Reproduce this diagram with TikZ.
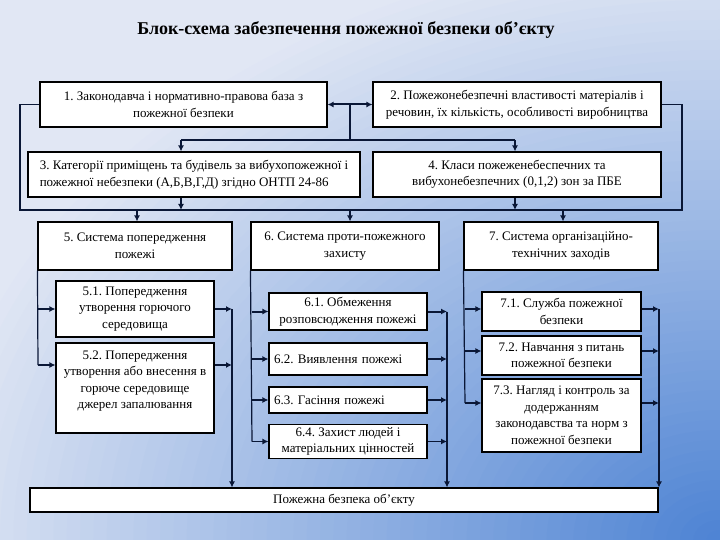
\documentclass[tikz,border=0pt]{standalone}
\usepackage{fontspec}
\setmainfont{Liberation Serif}
\usetikzlibrary{arrows.meta}
\definecolor{bgin}{HTML}{4C82D3}
\definecolor{bgout}{HTML}{E1E7F4}
\definecolor{navy}{HTML}{0A1736}
\frenchspacing
\begin{document}
\begin{tikzpicture}[x=1pt,y=-1pt,
  box/.style={draw=black, line width=1.1pt, fill=white, inner sep=3pt,
    font=\fontsize{13}{16.5}\selectfont, align=center},
  thinl/.style={draw=navy, line width=1.2pt},
  thickl/.style={draw=navy, line width=2pt},
  arr/.style={-{Latex[length=6pt,width=6pt]}}
]
\useasboundingbox (0,0) rectangle (720,540);
\begin{scope}
\clip (0,0) rectangle (720,540);
\fill[bgout] (0,0) rectangle (720,540);
\foreach \i in {60,59,...,1}{
  \pgfmathsetmacro\p{100-100*\i/60}
  \fill[bgin!\p!bgout] (720,540) ellipse [x radius=\i*13.33, y radius=\i*10];
}
\end{scope}

\node[font=\bfseries\fontsize{18}{21}\selectfont, text=black] (title) at (346,30) {Блок-схема забезпечення пожежної безпеки об’єкту};

% top boxes
\node[box, minimum width=287, minimum height=45] (b1) at (183.5,104.5) {1. Законодавча і нормативно-правова база з\\пожежної безпеки};
\node[box, minimum width=288, minimum height=45] (b2) at (517,104.5) {2. Пожежонебезпечні властивості матеріалів і\\речовин, їх кількість, особливості виробництва};
\node[box, minimum width=332, minimum height=45, align=left] (b3) at (194,174.5) {3. Категорії приміщень та будівель за вибухопожежної і\\пожежної небезпеки (А,Б,В,Г,Д) згідно ОНТП 24-86};
\node[box, minimum width=288, minimum height=45] (b4) at (517,174.5) {4. Класи пожеженебеспечних та\\вибухонебезпечних (0,1,2) зон за ПБЕ};

% systems
\node[box, minimum width=194, minimum height=48] (b5) at (135,246) {5. Система попередження\\пожежі};
\node[box, minimum width=188, minimum height=48] (b6) at (345,246) {6. Система проти-пожежного\\захисту};
\node[box, minimum width=194, minimum height=48] (b7) at (561,246) {7. Система організаційно-\\технічних заходів};

% sub boxes 5
\node[box, minimum width=158, minimum height=56] (b51) at (135,309) {5.1. Попередження\\утворення горючого\\середовища};
\node[box, minimum width=158, minimum height=90] (b52) at (135,388) {5.2. Попередження\\утворення або внесення в\\горюче середовище\\джерел запалювання\\~};
% sub boxes 6
\node[box, minimum width=158, minimum height=37] (b61) at (348,311.5) {6.1. Обмеження\\розповсюдження пожежі};
\node[box, minimum width=158, minimum height=32, text width=148, align=left] (b62) at (348,359) {6.2. Виявлення пожежі};
\node[box, minimum width=158, minimum height=26, text width=148, align=left] (b63) at (348,400) {6.3. Гасіння пожежі};
\node[box, minimum width=158, minimum height=33] (b64) at (348,441.5) {6.4. Захист людей і\\матеріальних цінностей};
% sub boxes 7
\node[box, minimum width=159, minimum height=39] (b71) at (561.5,311.5) {7.1. Служба пожежної\\безпеки};
\node[box, minimum width=159, minimum height=39] (b72) at (561.5,355.5) {7.2. Навчання з питань\\пожежної безпеки};
\node[box, minimum width=159, minimum height=73] (b73) at (561.5,415.5) {7.3. Нагляд і контроль за\\додержанням\\законодавства та норм з\\пожежної безпеки};

% bottom
\node[box, minimum width=628, minimum height=24] (bot) at (344,500) {Пожежна безпека об’єкту};

% coordinates
\coordinate (m) at (350,104.5);
\coordinate (m2) at (350,140);
\coordinate (h3) at (181,140);
\coordinate (h4) at (515,140);
\coordinate (LL) at (20,104.5);
\coordinate (LB) at (20,210);
\coordinate (RL) at (682,104.5);
\coordinate (RB) at (682,210);
\coordinate (t5) at (137,210);
\coordinate (t6) at (350,210);
\coordinate (t7) at (563,210);
\coordinate (R5) at (232,310);
\coordinate (R6) at (447,310);
\coordinate (R7) at (659,309);
\coordinate (L5b) at (38,365);
\coordinate (L6d) at (252,441.5);
\coordinate (L7a) at (465,309);
\coordinate (L7b) at (465,351);
\coordinate (L7c) at (465,403);

% top connectors
\draw[thickl, {Latex[length=6pt,width=6pt]}-{Latex[length=6pt,width=6pt]}] (b1.east) -- (b2.west);
\draw[thinl] (m) -- (m2);
\draw[thinl] (h3) -- (h4);
\draw[thinl, arr] (h3) -- (h3 |- b3.north);
\draw[thinl, arr] (h4) -- (h4 |- b4.north);
\draw[thinl, arr] (b3.south -| h3) -- (h3 |- LB);
\draw[thinl, arr] (b4.south -| h4) -- (h4 |- LB);
\draw[thinl] (b1.west) -- (LL) -- (LB) -- (RB) -- (RL) -- (b2.east);
\draw[thickl, arr] (t5) -- (t5 |- b5.north);
\draw[thickl, arr] (t6) -- (t6 |- b6.north);
\draw[thickl, arr] (t7) -- (t7 |- b7.north);

% system 5
\draw[thinl] (b5.south west) -- (L5b);
\draw[thickl, arr] (b5.west |- b51) -- (b51.west);
\draw[thinl, arr] (L5b) -- (L5b -| b52.west);
\draw[thickl, arr] (b51.east) -- (R5 |- b51);
\draw[thinl, arr] (L5b -| b52.east) -- (L5b -| R5);
\draw[thickl, arr] (R5 |- b51) -- (R5 |- bot.north);

% system 6
\draw[thinl] (b6.south west) -- (L6d);
\draw[thickl, arr] (L6d |- b61) -- (b61.west);
\draw[thinl, arr] (L6d |- b62) -- (b62.west);
\draw[thinl, arr] (L6d |- b63) -- (b63.west);
\draw[thinl, arr] (L6d) -- (b64.west);
\draw[thickl, arr] (b61.east) -- (R6 |- b61);
\draw[thinl, arr] (b62.east) -- (R6 |- b62);
\draw[thinl, arr] (b63.east) -- (R6 |- b63);
\draw[thinl, arr] (b64.east) -- (R6 |- b64);
\draw[thickl, arr] (R6 |- b61) -- (R6 |- bot.north);

% system 7
\draw[thinl] (b7.south west) -- (L7c);
\draw[thickl, arr] (L7a) -- (L7a -| b71.west);
\draw[thinl, arr] (L7b) -- (L7b -| b72.west);
\draw[thickl, arr] (L7c) -- (L7c -| b73.west);
\draw[thickl, arr] (L7a -| b71.east) -- (R7);
\draw[thinl, arr] (L7b -| b72.east) -- (R7 |- L7b);
\draw[thickl, arr] (L7c -| b73.east) -- (R7 |- L7c);
\draw[thickl, arr] (R7) -- (R7 |- bot.north);
\end{tikzpicture}
\end{document}
